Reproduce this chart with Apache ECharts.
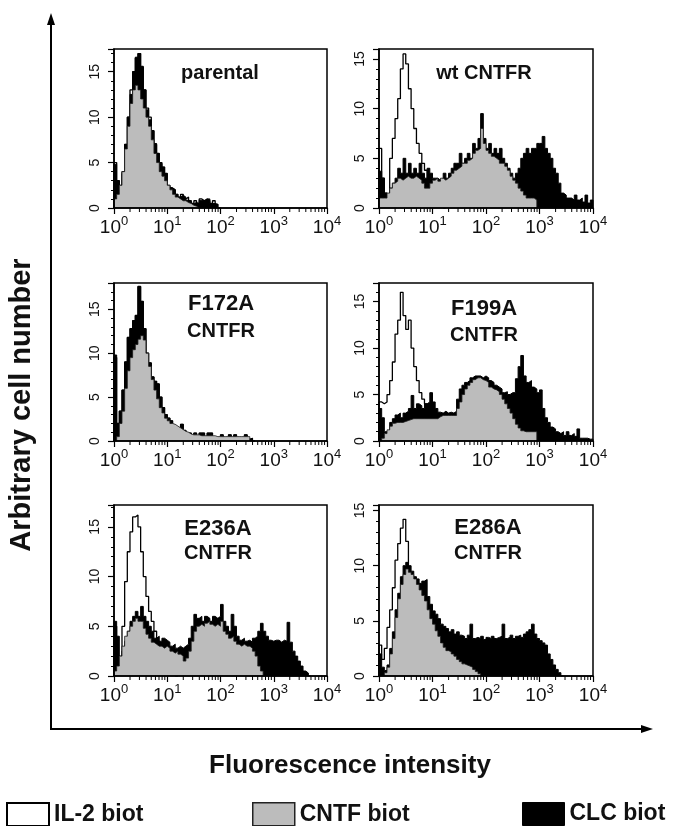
<!DOCTYPE html>
<html><head><meta charset="utf-8">
<script src="https://cdn.jsdelivr.net/npm/echarts@6/dist/echarts.min.js"></script>
<style>html,body{margin:0;padding:0;background:#fff}#c{width:676px;height:826px}</style>
</head><body><div id="c"></div>
<script>
const FONT = '"Liberation Sans", Arial, Helvetica, sans-serif';
const seriesNames = ['IL-2 biot', 'CNTF biot', 'CLC biot'];
const binsPerDecade = 20;          // histogram channels per decade of fluorescence
const minorTickValues = [2,3,4,5,6,7,8,9,20,30,40,50,60,70,80,90,200,300,400,500,600,700,800,900,2000,3000,4000,5000,6000,7000,8000,9000];
const panelTitles = [['parental'], ['wt CNTFR'], ['F172A', 'CNTFR'], ['F199A', 'CNTFR'], ['E236A', 'CNTFR'], ['E286A', 'CNTFR']];
const yMaxes = [17.5, 16, 18, 17, 17.2, 15.5];

// ---- parental ----
const parentalIL2 = [5,3,2.5,4,7,10,13,15,16.5,17,15.5,13,11,10,8.5,7,6,5,4.5,3.8,2.5,2.2,2,1.5,1.2,1.5,1,1.2,0.8,0.5,0.8,0.5,1,0.8,1,0.8,0.5,0.8,0.4,0];
const parentalCNTF = [1,1.5,2.5,4,6.5,9,11.5,13,13.5,13,12,11,10,9,7.5,6,5,4,3.5,3,2.5,2,1.5,1.2,1,0.8,0.8,0.6,0.5,0.3,0.2,0];
const parentalCLC = [4.8,3,2.4,3.8,7,10,12.5,15,16.6,17,15.6,13,10.8,9.7,8.5,7.1,6,4.9,4.5,3.8,2.3,2.2,2,1.5,1.2,1.4,1.2,0.85,0.8,0.5,0.6,0.5,0.85,0.8,1,1,0.5,0.5,0.4,0];
// ---- wt CNTFR ----
const wtIL2 = [6,3,1.5,1,5,7,9,11,14,15.5,14.5,12,10,8,6.5,5.5,4.5,3.8,3,2.5,2,1.5,1,0.5,0];
const wtCNTF = [1,1,1,1.5,2,2.5,2.7,3,2.8,3,3.2,3,3,3.2,3,2.8,2.5,2,2,2.5,2.8,3,2.7,3,2.8,3,3.2,3.5,3.8,4,4.2,4.5,4.5,4.8,5,5.5,5.8,6,8,6.5,5.8,5.5,5.2,5,4.8,4.5,4.5,4.2,3.8,3.2,2.8,2.5,2,1.7,1.3,1,1,1,0.8,0];
const wtCLC = [3.7,3,1.5,1,2,2.5,3,4,3.5,5,3.5,4.5,3.5,4,3.5,4.5,3.5,3,4,3.5,3,3,2.8,3,3.5,3,3.5,4,4.5,4.5,5.5,4.5,5,5.5,5,6.5,6,7,9.5,7,6,6.5,5.5,6,5.5,6,5,4.5,4,3.5,3,3.5,4,5,5.5,6,5.5,6,6,6.5,6.5,7.2,6,5.5,5,4,3.5,2.5,1.5,1.3,1,1,0.8,1.3,0.8,1,0.6,1.3,0.5,0.8];
// ---- F172A CNTFR ----
const f172IL2 = [9.5,2,3.4,5.8,9,11.8,12.8,13.7,14.3,17.6,15.9,12.8,10,8.9,7.3,6.8,6.5,5,3.8,3,2.6,2.3,1.8,1.5,1.5,1.9,1.2,0.9,0.9,0.5,0.9,0.5,0.9,0.9,0.5,0.9,0.9,0.3,0.3,0.3,0.7,0.3,0.3,0.7,0.3,0.7,0.3,0.3,0.3,0.7,0.2,0.3,0];
const f172CNTF = [0,0.5,2,3.4,6,8,9.5,10.4,11,11.6,12,11.5,10,8.5,7,5.8,4.8,3.8,3.2,2.6,2.3,2,1.9,1.7,1.5,1.3,1.1,1,0.8,0.7,0.7,0.7,0.6,0.6,0.6,0.6,0.6,0.6,0.5,0.5,0.5,0.5,0.5,0.5,0.5,0.5,0.5,0.5,0.5,0.5,0.5,0];
const f172CLC = [9.8,2,3.4,5.8,9,11.8,12.8,13.7,14.3,17.6,15.9,12.8,10,8.9,7.3,6.8,6.5,5,3.8,3,2.6,2.3,1.8,1.5,1.5,1.9,1.2,0.9,0.9,0.5,0.9,0.5,0.9,0.9,0.5,0.9,0.9,0.3,0.3,0.3,0.7,0.3,0.3,0.7,0.3,0.7,0.3,0.3,0.3,0.7,0.2,0.3,0];
// ---- F199A CNTFR ----
const f199IL2 = [4.2,4,4.2,5,6.5,8.5,11.5,13,16,13.5,12,13,10,8,6.5,5.2,4.5,4,3.5,3,2.5,2,1.5,1,0];
const f199CNTF = [0,0.3,0.8,1.2,1.6,1.9,2,2,2,2.1,2.2,2.3,2.4,2.4,2.4,2.4,2.4,2.4,2.4,2.4,2.4,2.4,2.6,2.75,2.75,2.75,2.75,2.75,2.75,3.5,4.2,5,5.6,6,6.3,6.6,6.8,6.8,6.6,6.5,6.3,5.8,5.6,5.5,5.3,5,4.5,4,3.5,3,2.4,1.8,1.4,1.1,1,1,1,1,1,0];
const f199CLC = [3.5,2.5,1,1,2,2.4,2.8,3,2.5,3,3.2,3.5,4.9,3.5,4,3.8,3.5,4,4.2,5.2,4.2,3.5,3.1,3,3.2,3,3.1,3,3.2,4.5,5.6,6,6.3,6.5,6.8,7,7,7,6.8,7,6.8,6.5,6.3,6,5.8,5.6,5.2,5.3,5,5.2,5.2,6.7,8,9.2,7,6.3,6.5,5.8,5.6,5.2,5.5,3.5,2.5,2,1.5,1.3,1,0.8,1,0.6,1,0.6,0.8,0.5,1.3,0.3,0.3,0.3,0.2,0.2];
// ---- E236A CNTFR ----
const e236IL2 = [5,2,1.5,5,9.5,12.5,14.5,16,16.2,15,12.5,10,8,6.5,5.5,4.5,3.5,3,2.5,2,1.5,1,0.5,0];
const e236CNTF = [0.5,1,2,3,4,4.5,5,5.5,5.8,5.5,5.5,4.8,4.2,3.8,3.4,3.2,3,3,2.8,3,2.8,2.5,2.3,2.5,2.2,2,1.5,1.8,2.5,3.5,4.5,5,5.2,5,5.3,5.5,5.2,5,5.2,5,5.5,4.5,4.2,3.8,4,3.5,3.2,3,3.2,3,3,2.8,2.5,2,1,0.5,0];
const e236CLC = [5.5,4,2,2.5,3.5,4.5,5.5,6,6.5,6,7,6,5.5,5,4.5,3.8,4,3.5,3.8,3.6,3.4,3,3.2,2.8,3,2.8,3,3.2,3.8,5,6.2,5.8,6,5.5,6,5.8,5.5,6,5.8,6,7.2,5.5,5,4.5,6.2,5,4,3.6,3.8,3.5,3.6,3.4,3.8,4,4.5,5.3,4.5,4,3.6,3.5,3.6,3.6,3.4,3.6,3.5,5.4,3.4,2.5,2,1.5,1,0.5,0.3,0];
// ---- E286A CNTFR ----
const e286IL2 = [2.8,1.5,2.5,4.4,6,8,10.5,12,13.4,14.2,12.2,9.4,7.8,6.5,5,4,3,2,1.5,1,0.5,0];
const e286CNTF = [0,0,0.3,0.8,2,3.4,5.3,7,8.3,9.2,9.7,9.4,9.2,8.8,8.3,7.8,7.3,6.8,6,5.2,4.7,4.1,3.6,3,2.6,2.3,2.2,2,1.8,1.5,1.3,1.1,1,0.9,0.8,0.6,0.4,0.2,0];
const e286CLC = [2,0.8,0.5,1,2.5,4,6,7.5,9,10,10.3,10,9.5,9,8.8,8.4,8.6,8.75,7.2,6.5,5.9,5.6,5.2,4.7,4.5,4.3,4,4.2,3.8,4,3.7,3.6,3.4,3.7,4.7,3.4,3.5,3.4,3.6,3.3,3.5,3.4,3.6,3.4,3.5,3.6,4.7,3.4,3.5,3.7,3.4,3.6,3.7,3.5,3.8,4,4.2,4.7,3.8,3.4,3.2,3,2.8,2,1.5,1,0.6,0.3,0];

const panelData = [
  [parentalIL2, parentalCNTF, parentalCLC],
  [wtIL2, wtCNTF, wtCLC],
  [f172IL2, f172CNTF, f172CLC],
  [f199IL2, f199CNTF, f199CLC],
  [e236IL2, e236CNTF, e236CLC],
  [e286IL2, e286CNTF, e286CLC]
];

// layout
const colLeft = [114, 379];
const colWidth = [213, 214];
const rowTop = [49, 283, 505];
const rowHeight = [159, 158, 171];
const titleCenterX = [220, 484, 221, 484, 218, 488];
const titleY = [[73], [73], [304, 331], [309, 335], [529, 553], [528, 553]];
const titleSize = [[20], [20], [22, 20], [22, 20], [22, 20], [22, 20]];

const styles = [
  { fill: '#ffffff', line: '#000', lw: 1.3, z: 2 },
  { fill: '#bcbcbc', line: '#1a1a1a', lw: 0.8, z: 4 },
  { fill: '#000000', line: '#000', lw: 1, z: 3 }
];

function toSteps(vals) {
  const pts = [[1, 0]];
  vals.forEach((v, i) => pts.push([Math.pow(10, i / binsPerDecade), v]));
  const end = Math.pow(10, vals.length / binsPerDecade);
  pts.push([Math.min(end, 10000), 0]);
  return pts;
}

const grids = [], xAxes = [], yAxes = [], series = [], graphics = [];
for (let p = 0; p < 6; p++) {
  const col = p % 2, row = Math.floor(p / 2);
  grids.push({ left: colLeft[col], top: rowTop[row], width: colWidth[col], height: rowHeight[row],
    show: true, borderColor: '#000', borderWidth: 1.5, backgroundColor: 'transparent', outerBoundsMode: 'none', z: 6 });
  xAxes.push({
    type: 'log', logBase: 10, gridIndex: p, min: 1, max: 10000, splitNumber: 4, z: 6,
    axisLine: { show: true, lineStyle: { color: '#000', width: 1.5 } },
    axisTick: { show: true, length: 6, lineStyle: { color: '#000', width: 1.2 } },
    splitLine: { show: false },
    axisLabel: {
      margin: 7, color: '#111',
      formatter: v => '{b|10}{s|' + Math.round(Math.log10(v)) + '}',
      rich: {
        b: { fontSize: 19, fontFamily: FONT, color: '#111', lineHeight: 22, verticalAlign: 'bottom' },
        s: { fontSize: 13, fontFamily: FONT, color: '#111', lineHeight: 22, verticalAlign: 'top' }
      }
    }
  });
  yAxes.push({
    type: 'value', gridIndex: p, min: 0, max: yMaxes[p], interval: 5, z: 6,
    axisLine: { show: true, lineStyle: { color: '#000', width: 1.5 } },
    axisTick: { show: true, length: 6, lineStyle: { color: '#000', width: 1.2 } },
    minorTick: { show: true, splitNumber: 5, length: 3, lineStyle: { color: '#000', width: 1 } },
    splitLine: { show: false },
    axisLabel: { rotate: 90, margin: 12, fontSize: 14, fontFamily: FONT, color: '#111',
      formatter: v => (Math.abs(v % 5) < 1e-6 ? String(v) : '') }
  });
  [0, 2, 1].forEach(k => {
    series.push({
      type: 'line', name: seriesNames[k], xAxisIndex: p, yAxisIndex: p, z: styles[k].z,
      step: 'end', symbol: 'none', silent: true, animation: false,
      data: toSteps(panelData[p][k]),
      lineStyle: { color: styles[k].line, width: styles[k].lw },
      itemStyle: { color: styles[k].fill },
      areaStyle: { color: styles[k].fill, opacity: 1 }
    });
  });
  series.push({
    type: 'custom', xAxisIndex: p, yAxisIndex: p, silent: true, animation: false, clip: false, z: 6,
    data: minorTickValues.map(v => [v, 0]),
    renderItem: (params, api) => {
      const pt = api.coord([api.value(0), 0]);
      return { type: 'line', shape: { x1: pt[0], y1: pt[1], x2: pt[0], y2: pt[1] + 4 },
        style: { stroke: '#000', lineWidth: 1 } };
    }
  });
  panelTitles[p].forEach((t, j) => {
    graphics.push({ type: 'text', x: titleCenterX[p], y: titleY[p][j], z: 10,
      style: { text: t, fontSize: titleSize[p][j], fontWeight: 'bold', fontFamily: FONT, fill: '#111',
        textAlign: 'center', textVerticalAlign: 'middle', align: 'center', verticalAlign: 'middle' } });
  });
}

// big outer axes
graphics.push({ type: 'polyline', shape: { points: [[51, 22], [51, 729], [644, 729]] },
  style: { stroke: '#000', lineWidth: 2, fill: null } });
graphics.push({ type: 'polygon', shape: { points: [[51, 13], [47, 25], [55, 25]] }, style: { fill: '#000' } });
graphics.push({ type: 'polygon', shape: { points: [[653, 729], [641, 725], [641, 733]] }, style: { fill: '#000' } });
graphics.push({ type: 'text', x: 22, y: 405, rotation: Math.PI / 2,
  style: { text: 'Arbitrary cell number', fontSize: 29, fontWeight: 'bold', fontFamily: FONT, fill: '#111',
    align: 'center', verticalAlign: 'middle', textAlign: 'center', textVerticalAlign: 'middle' } });
graphics.push({ type: 'text', x: 350, y: 766,
  style: { text: 'Fluorescence intensity', fontSize: 26, fontWeight: 'bold', fontFamily: FONT, fill: '#111',
    align: 'center', verticalAlign: 'middle', textAlign: 'center', textVerticalAlign: 'middle' } });

const legendBase = { orient: 'horizontal', top: 802, padding: 0, itemWidth: 42, itemHeight: 23, icon: 'rect', selectedMode: false, itemGap: 8,
  textStyle: { fontSize: 23, fontWeight: 'bold', fontFamily: FONT, color: '#111' } };
const legends = [
  Object.assign({}, legendBase, { left: 6, data: [{ name: 'IL-2 biot', itemStyle: { color: '#fff', borderColor: '#000', borderWidth: 2 } }] }),
  Object.assign({}, legendBase, { left: 252, data: [{ name: 'CNTF biot', itemStyle: { color: '#bcbcbc', borderColor: '#222', borderWidth: 1.5 } }] }),
  Object.assign({}, legendBase, { left: 522, data: [{ name: 'CLC biot', itemStyle: { color: '#000', borderColor: '#000', borderWidth: 1 } }] })
];

const chart = echarts.init(document.getElementById('c'), null, { renderer: 'canvas' });
chart.setOption({
  animation: false,
  backgroundColor: '#fff',
  grid: grids, xAxis: xAxes, yAxis: yAxes, series: series,
  legend: legends,
  graphic: graphics
});
</script></body></html>
